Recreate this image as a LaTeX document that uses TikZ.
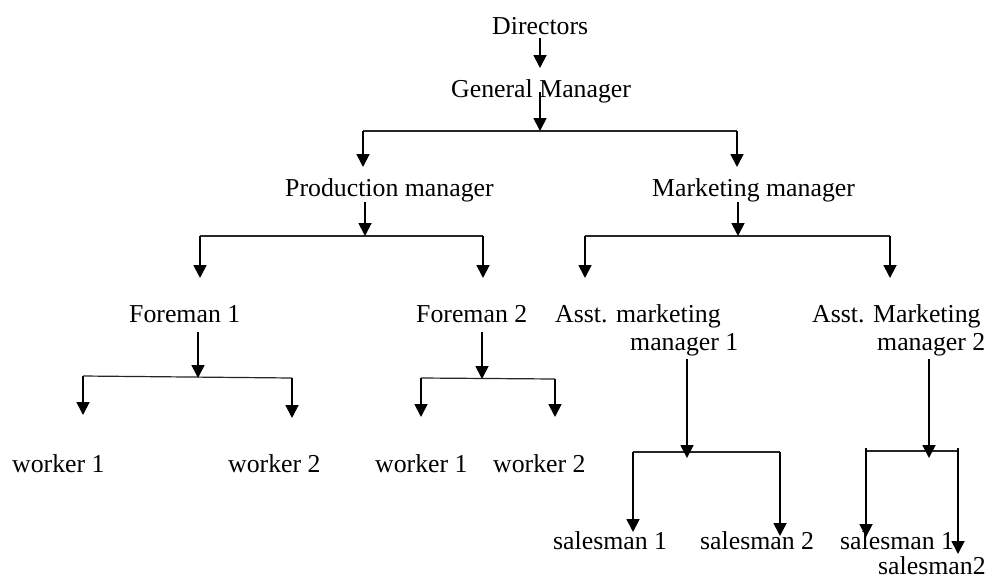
\documentclass[tikz,border=0pt]{standalone}
\usepackage{fontspec}
\setmainfont{Liberation Serif}
\usetikzlibrary{arrows.meta}
\begin{document}
\begin{tikzpicture}[x=1pt,y=-1pt,
  lbl/.style={anchor=base west, inner sep=0pt, text=black,
              font=\fontsize{25.8}{30}\selectfont},
  arr/.style={-{Triangle[width=13pt,length=13pt]}, line width=1.8pt},
  bar/.style={line width=1.2pt, draw=black!85}]
\useasboundingbox (0,0) rectangle (987,581);
\fill[white] (0,0) rectangle (987,581);

% ---- labels ----
\node[lbl] (dir)  at (492,34)  {Directors};
\node[lbl] (gm)   at (451,97)  {General Manager};
\node[lbl] (pm)   at (285,196) {Production manager};
\node[lbl] (mm)   at (652,196) {Marketing manager};
\node[lbl] (f1)   at (129,322) {Foreman 1};
\node[lbl] (f2)   at (416,322) {Foreman 2};
\node[lbl] (am1a) at (555,322) {Asst. marketing};
\node[lbl] (am1b) at (630,350) {manager 1};
\node[lbl] (am2a) at (812,322) {Asst. Marketing};
\node[lbl] (am2b) at (877,350) {manager 2};
\node[lbl] (w11)  at (12,472)  {worker 1};
\node[lbl] (w12)  at (228,472) {worker 2};
\node[lbl] (w21)  at (375,472) {worker 1};
\node[lbl] (w22)  at (493,472) {worker 2};
\node[lbl] (s11)  at (553,549) {salesman 1};
\node[lbl] (s12)  at (700,549) {salesman 2};
\node[lbl] (s21)  at (840,549) {salesman 1};
\node[lbl] (s22)  at (878,574) {salesman2};

% ---- connector end points ----
\coordinate (dirO) at (540,38);  \coordinate (gmI)  at (540,68);
\coordinate (gmO)  at (540,92);  \coordinate (gmJ)  at (540,131);
\coordinate (gmL)  at (363,131); \coordinate (gmR)  at (737,131);
\coordinate (pmI)  at (363,167); \coordinate (mmI)  at (737,167);

\coordinate (pmO)  at (365,202); \coordinate (pmJ)  at (365,236);
\coordinate (pmL)  at (200,236); \coordinate (pmR)  at (483,236);
\coordinate (f1I)  at (200,278); \coordinate (f2I)  at (483,278);

\coordinate (mmO)  at (738,202); \coordinate (mmJ)  at (738,236);
\coordinate (mmL)  at (585,236); \coordinate (mmR)  at (890,236);
\coordinate (am1I) at (585,278); \coordinate (am2I) at (890,278);

\coordinate (f1O)  at (198,332); \coordinate (f1J)  at (198,378);
\coordinate (f1L)  at (83,376);  \coordinate (f1R)  at (292,378);
\coordinate (w11I) at (83,415);  \coordinate (w12I) at (292,418);

\coordinate (f2O)  at (482,332); \coordinate (f2J)  at (482,379);
\coordinate (f2L)  at (421,378); \coordinate (f2R)  at (555,379);
\coordinate (w21I) at (421,417); \coordinate (w22I) at (555,417);

\coordinate (am1O) at (687,359); \coordinate (am1J) at (687,458);
\coordinate (am1L) at (633,452); \coordinate (am1R) at (780,452);
\coordinate (s11I) at (633,532); \coordinate (s12I) at (780,536);

\coordinate (am2O) at (929,359); \coordinate (am2J) at (929,458);
\coordinate (am2L) at (866,451); \coordinate (am2R) at (958,451);
\coordinate (am2Lt) at (866,448); \coordinate (am2Rt) at (958,448);
\coordinate (s21I) at (866,537); \coordinate (s22I) at (958,554);

% ---- Directors to General Manager ----
\draw[arr] (dirO) -- (gmI);

% ---- General Manager to the two managers ----
\draw[bar] (gmL) -- (gmR);
\draw[arr] (gmO) -- (gmJ);
\draw[arr] (gmL) -- (pmI);
\draw[arr] (gmR) -- (mmI);

% ---- Production manager to foremen ----
\draw[bar] (pmL) -- (pmR);
\draw[arr] (pmO) -- (pmJ);
\draw[arr] (pmL) -- (f1I);
\draw[arr] (pmR) -- (f2I);

% ---- Marketing manager to assistants ----
\draw[bar] (mmL) -- (mmR);
\draw[arr] (mmO) -- (mmJ);
\draw[arr] (mmL) -- (am1I);
\draw[arr] (mmR) -- (am2I);

% ---- Foreman 1 to workers ----
\draw[bar] (f1L) -- (f1R);
\draw[arr] (f1O) -- (f1J);
\draw[arr] (f1L) -- (w11I);
\draw[arr] (f1R) -- (w12I);

% ---- Foreman 2 to workers ----
\draw[bar] (f2L) -- (f2R);
\draw[arr] (f2O) -- (f2J);
\draw[arr] (f2L) -- (w21I);
\draw[arr] (f2R) -- (w22I);

% ---- Asst. marketing manager 1 to salesmen ----
\draw[bar] (am1L) -- (am1R);
\draw[arr] (am1O) -- (am1J);
\draw[arr] (am1L) -- (s11I);
\draw[arr] (am1R) -- (s12I);

% ---- Asst. Marketing manager 2 to salesmen ----
\draw[bar] (am2L) -- (am2R);
\draw[arr] (am2O) -- (am2J);
\draw[arr] (am2Lt) -- (s21I);
\draw[arr] (am2Rt) -- (s22I);
\end{tikzpicture}
\end{document}
